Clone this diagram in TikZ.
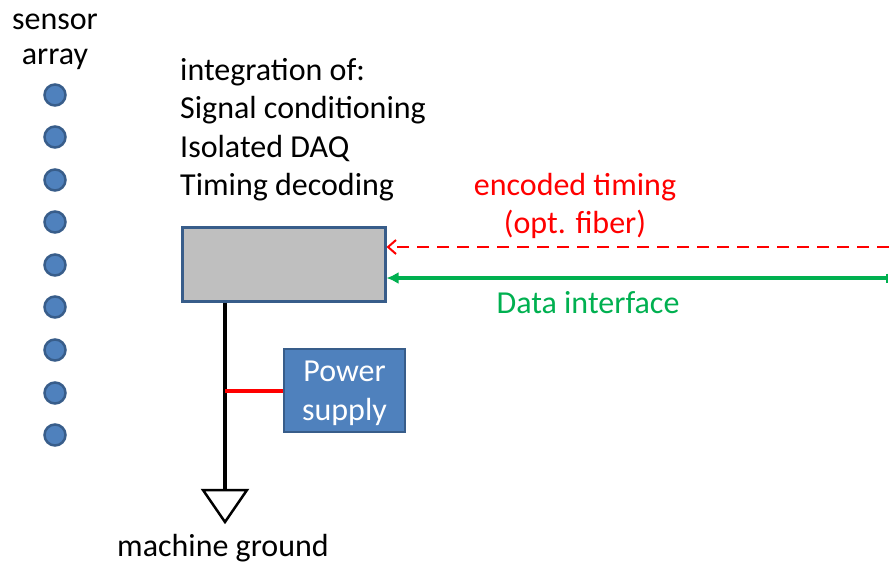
\documentclass[tikz,border=0pt]{standalone}
\usepackage{fontspec}
\setmainfont{Carlito}
\usetikzlibrary{arrows.meta}
\definecolor{sblue}{HTML}{4F81BD}
\definecolor{sborder}{HTML}{385D8A}
\definecolor{sgray}{HTML}{BFBFBF}
\definecolor{sgreen}{HTML}{00B050}
\definecolor{sred}{HTML}{FF0000}
\begin{document}
\begin{tikzpicture}[x=1pt,y=-1pt,
  lbl/.style={font=\fontsize{32}{38}\selectfont, inner sep=0pt},
  sensor/.style={circle, fill=sblue, draw=sborder, line width=2.5pt, minimum size=21pt, inner sep=0pt},
  wire/.style={line width=3.5pt}]
\useasboundingbox (0,0) rectangle (889,565);
\node[lbl] (t1) at (55,22) {sensor};
\node[lbl] (t2) at (55,59) {array};
\foreach \y [count=\i] in {95,137,180,222,265,307,350,393,435}
  \node[sensor] (s\i) at (55,\y) {};
\node[lbl, anchor=west] (i1) at (180,72) {integration of:};
\node[lbl, anchor=west] (i2) at (180,110) {Signal conditioning};
\node[lbl, anchor=west] (i3) at (180,149) {Isolated DAQ};
\node[lbl, anchor=west] (i4) at (180,187) {Timing decoding};
\node[draw=sborder, fill=sgray, line width=3pt, minimum width=203pt, minimum height=74pt, inner sep=0pt] (box) at (283.5,264) {};
\node[lbl, text=sred] (e1) at (575,187) {encoded timing};
\node[lbl, text=sred] (e2) at (575,224) {(opt. fiber)};
\node[lbl, text=sgreen] (d1) at (588,303) {Data interface};
\coordinate (rin) at (889,247);
\coordinate (gin) at (888,278);
\draw[sred, line width=2.5pt, dash pattern=on 12pt off 8pt, -{Straight Barb[length=8pt,width=14pt,line width=2pt]}] (rin) -- (rin -| box.east);
\draw[sgreen, line width=3.5pt, {Latex[length=12pt,width=12pt]}-{Bar[width=9pt,line width=2pt]}] (gin -| box.east) -- (gin);
\node[fill=sblue, draw=sborder, line width=2.5pt, minimum width=121pt, minimum height=83pt, inner sep=0pt] (ps) at (344.5,390.5) {};
\node[align=center, text=white, font=\fontsize{32}{39}\selectfont, inner sep=0pt, yshift=-3pt] (pst) at (ps.center) {Power\\supply};
\coordinate (gtop) at (225,490);
\draw[wire] (box.south -| gtop) -- (gtop);
\coordinate (j) at (225,391);
\draw[wire, sred] (j) -- (j -| ps.west);
\draw[line width=2.5pt, fill=white, line join=miter] (203,490) -- (247,490) -- (225,522) -- cycle;
\node[lbl] (mg) at (223,548) {machine ground};
\end{tikzpicture}
\end{document}
